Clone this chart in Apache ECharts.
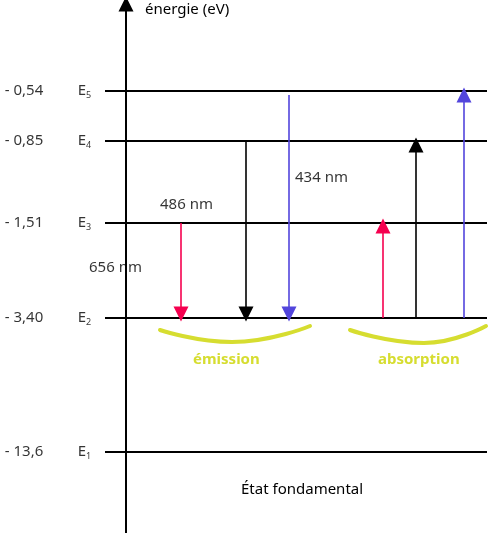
<!DOCTYPE html>
<html><head><meta charset="utf-8">
<script src="https://cdn.jsdelivr.net/npm/echarts@6/dist/echarts.min.js"></script>
<style>html,body{margin:0;padding:0;background:#fff}#c{width:501px;height:533px}</style>
</head><body><div id="c"></div>
<script>
// Energy levels (display height on diagram scale, 0 top .. 533 bottom)
const levelNames = ['1','2','3','4','5'];
const levelEnergy = ['- 13,6','- 3,40','- 1,51','- 0,85','- 0,54'];
const levelY = [452, 318, 223, 141, 91];
// Transitions
const emissionX = [181, 246, 289];
const emissionFrom = [223, 141, 95];
const emissionTo = [314, 314, 314];
const absorptionX = [383, 416, 464];
const absorptionTo = [226, 145, 95];
const arrowColors = ['#f5004f', '#000000', '#5245dc'];
const wavelengths = ['656 nm', '486 nm', '434 nm'];
const wavelengthPos = [[89, 268], [160, 205], [295, 178]];
const FONT = 'Noto Sans';
const YEL = '#d6dd30';

const series = [];
series.push({type:'lines', coordinateSystem:'cartesian2d', silent:true, z:3,
  symbol:['none','triangle'], symbolSize:[15,15],
  lineStyle:{color:'#000',width:2,opacity:1},
  data:[{coords:[[126,533],[126,4]]}]});
series.push({type:'lines', coordinateSystem:'cartesian2d', silent:true,
  lineStyle:{color:'#000',width:1.8,opacity:1},
  data:levelY.map(y=>({coords:[[105,y],[487,y]]}))});
const arr=[];
emissionX.forEach((x,i)=>arr.push({coords:[[x,emissionFrom[i]],[x,emissionTo[i]]],lineStyle:{color:arrowColors[i]}}));
absorptionX.forEach((x,i)=>arr.push({coords:[[x,318],[x,absorptionTo[i]]],lineStyle:{color:arrowColors[i]}}));
series.push({type:'lines', coordinateSystem:'cartesian2d', silent:true, z:4,
  symbol:['none','triangle'], symbolSize:[17,15],
  lineStyle:{width:1.6,opacity:1}, data:arr});
series.push({type:'scatter', symbolSize:0, silent:true,
  data:levelY.map((y,i)=>({value:[88,y],name:levelNames[i],energy:levelEnergy[i]})),
  label:{show:true, position:'inside', fontFamily:FONT, fontSize:15, color:'#000',
    formatter:p=>'{e|'+p.data.energy+'}{g|}{E|E}{s|'+p.data.name+'}',
    rich:{e:{fontFamily:FONT,fontSize:15,color:'#000',width:64,align:'left'},g:{width:9},
      E:{fontFamily:FONT,fontSize:15,color:'#000'},s:{fontFamily:FONT,fontSize:9,color:'#000',padding:[9,0,0,0]}}},
  labelLayout:{dx:-40}});
series.push({type:'scatter', symbolSize:0, silent:true,
  data:wavelengths.map((w,i)=>({value:wavelengthPos[i],name:w})),
  label:{show:true,position:'right',distance:0,formatter:'{b}',fontFamily:FONT,fontSize:15,color:'#000'}});
[[[160,330],[232,342],[310,326]],[[350,330],[424,343],[486,326]]].forEach(pts=>{
  series.push({type:'line',data:pts,smooth:true,symbol:'none',silent:true,
    lineStyle:{color:YEL,width:4,cap:'round'}});
});
const opt={
  animation:false,
  grid:{left:0,right:0,top:0,bottom:0},
  xAxis:{type:'value',min:0,max:501,show:false},
  yAxis:{type:'value',min:0,max:533,inverse:true,show:false},
  graphic:[
    {type:'text',left:145,top:2,style:{text:'énergie (eV)',font:'15px "Noto Sans"',fill:'#000'}},
    {type:'text',left:241,top:482,style:{text:'État fondamental',font:'15px "Noto Sans"',fill:'#000'}},
    {type:'text',left:193,top:352,style:{text:'émission',font:'bold 15px "Noto Sans"',fill:YEL}},
    {type:'text',left:378,top:352,style:{text:'absorption',font:'bold 15px "Noto Sans"',fill:YEL}}
  ],
  series
};
echarts.init(document.getElementById('c')).setOption(opt);
</script></body></html>
